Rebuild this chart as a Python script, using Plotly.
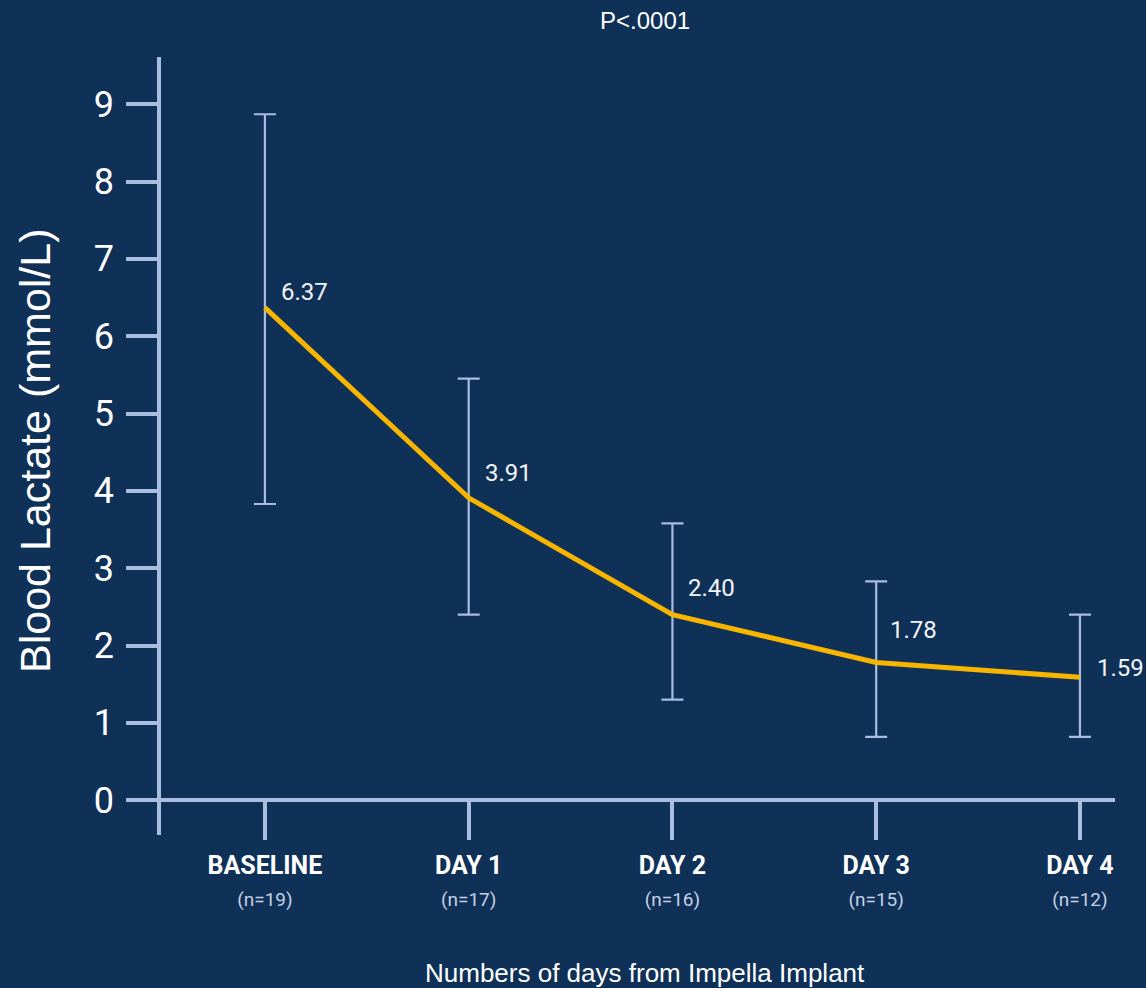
import plotly.graph_objects as go

# ---- data ----
categories = ["BASELINE", "DAY 1", "DAY 2", "DAY 3", "DAY 4"]
n_counts = ["(n=19)", "(n=17)", "(n=16)", "(n=15)", "(n=12)"]
lactate_mean = [6.37, 3.91, 2.40, 1.78, 1.59]
lactate_upper = [8.87, 5.45, 3.58, 2.83, 2.40]
lactate_lower = [3.83, 2.40, 1.30, 0.82, 0.82]
y_ticks = [0, 1, 2, 3, 4, 5, 6, 7, 8, 9]
title_text = "P<.0001"
x_title = "Numbers of days from Impella Implant"
y_title = "Blood Lactate (mmol/L)"

# ---- style ----
BG = "#0f3157"
AXIS = "#a9bde0"
LINE = "#f7b500"
label_xshift = [14, 14, 14, 12, 15]
label_yshift = [16, 25, 27, 33, 9]

x_idx = list(range(len(categories)))
err_plus = [u - m for u, m in zip(lactate_upper, lactate_mean)]
err_minus = [m - l for m, l in zip(lactate_mean, lactate_lower)]

fig = go.Figure()
fig.add_trace(go.Scatter(
    x=x_idx, y=lactate_mean, mode="lines",
    line=dict(color=LINE, width=5),
    error_y=dict(type="data", symmetric=False, array=err_plus, arrayminus=err_minus,
                 color=AXIS, thickness=2.2, width=11),
    hoverinfo="skip", showlegend=False,
))

ticktext = [f"<b>{c}</b><br><span style='font-size:19px;color:#c5d0e4'>{n}</span>"
            for c, n in zip(categories, n_counts)]

annotations = []
for i, v in enumerate(lactate_mean):
    annotations.append(dict(
        x=x_idx[i], y=v, xref="x", yref="y", text=f"{v:.2f}", showarrow=False,
        xanchor="left", yanchor="middle", xshift=label_xshift[i], yshift=label_yshift[i],
        font=dict(family="Roboto", size=24, color="#f2f4f8"),
    ))
annotations.append(dict(
    x=0.507, y=1.0, xref="paper", yref="paper", yshift=37, text=title_text, showarrow=False,
    xanchor="center", yanchor="middle",
    font=dict(family="Liberation Sans, Arial", size=24, color="#ffffff"),
))
annotations.append(dict(
    x=0.507, y=0, xref="paper", yref="paper", yshift=-138, text=x_title, showarrow=False,
    xanchor="center", yanchor="middle",
    font=dict(family="Liberation Sans, Arial", size=26, color="#ffffff"),
))
annotations.append(dict(
    x=0, y=0.5, xref="paper", yref="paper", xshift=-126, yshift=-5, text=y_title, showarrow=False,
    textangle=-90, xanchor="center", yanchor="middle",
    font=dict(family="Liberation Sans, Arial", size=43, color="#ffffff"),
))

fig.update_layout(
    width=1146, height=988,
    paper_bgcolor=BG, plot_bgcolor=BG,
    margin=dict(l=161, r=31, t=57, b=153),
    annotations=annotations,
    xaxis=dict(
        range=[-0.51, 4.172], tickmode="array", tickvals=x_idx, ticktext=ticktext,
        showgrid=False, zeroline=False, showline=True, linecolor=AXIS, linewidth=3.5,
        ticks="outside", ticklen=38, tickwidth=3.5, tickcolor=AXIS,
        anchor="free", position=0.045,
        tickfont=dict(family="Roboto", size=25, color="#ffffff"),
        ticklabelstandoff=4,
    ),
    yaxis=dict(
        range=[-0.45, 9.61], tickmode="array", tickvals=y_ticks,
        showgrid=False, zeroline=False, showline=True, linecolor=AXIS, linewidth=3.5,
        ticks="outside", ticklen=31, tickwidth=3.5, tickcolor=AXIS,
        tickfont=dict(family="Roboto", size=36, color="#ffffff"),
        ticklabelstandoff=5,
    ),
)

fig.write_html("out.html", config={"displayModeBar": False},
               post_script="document.body.style.margin='0';document.body.style.overflow='hidden';")
